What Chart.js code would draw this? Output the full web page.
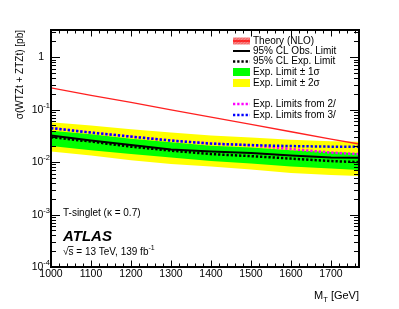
<!DOCTYPE html>
<html>
<head>
<meta charset="utf-8">
<script src="https://cdn.jsdelivr.net/npm/chart.js@4.4.0/dist/chart.umd.min.js"></script>
<style>
  html, body { margin: 0; padding: 0; background: #fff; }
  canvas { display: block; }
</style>
</head>
<body>
<canvas id="myChart" width="399" height="309"></canvas>
<script>
// mass points (GeV)
const masses = [1000, 1100, 1200, 1300, 1400, 1500, 1600, 1700, 1770];

// cross-section limits (pb)
const theory = [0.260, 0.188, 0.137, 0.0992, 0.0720, 0.0522, 0.0379, 0.0275, 0.0221];
const obsLimit = [0.0320, 0.0257, 0.0211, 0.0173, 0.01585, 0.01484, 0.0133, 0.01218, 0.01208];
const expLimit = [0.0299, 0.0246, 0.0197, 0.01656, 0.0142, 0.0130, 0.01166, 0.01045, 0.0100];
const plus1s = [0.0398, 0.0341, 0.0280, 0.0240, 0.0206, 0.0189, 0.0169, 0.0155, 0.0148];
const minus1s = [0.0202, 0.0169, 0.0142, 0.0122, 0.01045, 0.00936, 0.00821, 0.00752, 0.00704];
const plus2s = [0.0578, 0.0496, 0.0425, 0.0365, 0.0320, 0.0293, 0.0268, 0.0251, 0.0244];
const minus2s = [0.01585, 0.0133, 0.0109, 0.00916, 0.00821, 0.00720, 0.00617, 0.00565, 0.00541];
const exp2l = [0.0448, 0.0367, 0.0307, 0.0258, 0.0226, 0.0209, 0.0177, 0.0152, 0.0142];
const exp3l = [0.0444, 0.0365, 0.0306, 0.0257, 0.0225, 0.0211, 0.0202, 0.0197, 0.0196];

const xTicks = [1000, 1100, 1200, 1300, 1400, 1500, 1600, 1700];
const yDecades = [-4, -3, -2, -1, 0];

const pts = (vals) => masses.map((m, i) => ({ x: m, y: vals[i] }));

const FONT = "'Liberation Sans', Arial, Helvetica, sans-serif";

const base = { pointRadius: 0, tension: 0, fill: false };

const data = {
  datasets: [
    { ...base, data: pts(plus2s), borderWidth: 0, backgroundColor: "#ffff00", fill: "+1", order: 10 },
    { ...base, data: pts(minus2s), borderWidth: 0, order: 10 },
    { ...base, data: pts(plus1s), borderWidth: 0, backgroundColor: "#00ff00", fill: "+1", order: 9 },
    { ...base, data: pts(minus1s), borderWidth: 0, order: 9 },
    { ...base, data: pts(theory), borderColor: "#ff2020", borderWidth: 1.3, order: 5 },
    { ...base, data: pts(expLimit), borderColor: "#000", borderWidth: 2.5, borderDash: [2.3, 1.9], order: 4 },
    { ...base, data: pts(obsLimit), borderColor: "#000", borderWidth: 2, order: 3 },
    { ...base, data: pts(exp2l), borderColor: "#ff00ff", borderWidth: 2.5, borderDash: [2.3, 1.9], order: 2 },
    { ...base, data: pts(exp3l), borderColor: "#0000ff", borderWidth: 2.5, borderDash: [2.3, 1.9], order: 1 },
  ],
};

// draws the ROOT-style frame, ticks, labels, legend and texts
const atlasFrame = {
  id: "atlasFrame",
  afterDraw: (chart) => {
    const { ctx, chartArea: { top, bottom, left, right }, scales: { x, y } } = chart;
    ctx.save();
    ctx.strokeStyle = "#000";
    ctx.fillStyle = "#000";

    // ticks
    ctx.lineWidth = 1;
    ctx.beginPath();
    for (let m = 1000; m <= 1770; m += 20) {
      const px = Math.round(x.getPixelForValue(m)) + 0.5;
      const len = m % 100 === 0 ? 6.5 : 3.5;
      ctx.moveTo(px, bottom); ctx.lineTo(px, bottom - len);
      ctx.moveTo(px, top); ctx.lineTo(px, top + len);
    }
    for (let d = -4; d <= 0; d++) {
      for (let k = 1; k <= 9; k++) {
        const v = k * Math.pow(10, d);
        if (v > y.max) break;
        const py = Math.round(y.getPixelForValue(v)) + 0.5;
        const len = k === 1 ? 9 : 5;
        ctx.moveTo(left, py); ctx.lineTo(left + len, py);
        ctx.moveTo(right, py); ctx.lineTo(right - len, py);
      }
    }
    ctx.stroke();

    // frame
    ctx.lineWidth = 2;
    ctx.strokeRect(left, top, right - left, bottom - top);

    // x tick labels
    ctx.font = "10.5px " + FONT;
    ctx.textAlign = "center";
    ctx.textBaseline = "middle";
    xTicks.forEach((m) => ctx.fillText(String(m), x.getPixelForValue(m), 274));

    // y tick labels
    yDecades.forEach((d) => {
      const py = y.getPixelForValue(Math.pow(10, d));
      ctx.textBaseline = "middle";
      if (d === 0) {
        ctx.font = "10.5px " + FONT;
        ctx.textAlign = "right";
        ctx.fillText("1", 44, py);
      } else {
        ctx.font = "7.5px " + FONT;
        ctx.textAlign = "right";
        const sup = String(d);
        ctx.fillText(sup, 50, py - 4);
        const w = ctx.measureText(sup).width;
        ctx.font = "10.5px " + FONT;
        ctx.fillText("10", 50 - w, py + 0.5);
      }
    });

    // axis titles
    ctx.font = "11px " + FONT;
    ctx.textAlign = "right";
    ctx.textBaseline = "alphabetic";
    const tail = " [GeV]";
    const tw = ctx.measureText(tail).width;
    ctx.fillText(tail, right, 299);
    ctx.font = "7.5px " + FONT;
    const tT = ctx.measureText("T").width;
    ctx.fillText("T", right - tw, 302);
    ctx.font = "11px " + FONT;
    ctx.fillText("M", right - tw - tT, 299);

    ctx.save();
    ctx.translate(23, top);
    ctx.rotate(-Math.PI / 2);
    ctx.font = "10px " + FONT;
    ctx.textAlign = "right";
    ctx.textBaseline = "alphabetic";
    ctx.fillText("σ(WTZt + ZTZt) [pb]", 0, 0);
    ctx.restore();

    // inner texts
    ctx.textAlign = "left";
    ctx.textBaseline = "middle";
    ctx.font = "10px " + FONT;
    ctx.fillText("T-singlet (κ = 0.7)", 63, 213);
    ctx.font = "italic bold 15px " + FONT;
    ctx.fillText("ATLAS", 63, 236.5);
    ctx.font = "10px " + FONT;
    const s1 = "√s = 13 TeV, 139 fb";
    ctx.fillText(s1, 63, 252);
    const wRoot = ctx.measureText("√").width;
    const wS = ctx.measureText("s").width;
    ctx.lineWidth = 0.8;
    ctx.beginPath();
    ctx.moveTo(63 + wRoot - 0.5, 246.5); ctx.lineTo(63 + wRoot + wS, 246.5);
    ctx.stroke();
    const w1 = ctx.measureText(s1).width;
    ctx.font = "7px " + FONT;
    ctx.fillText("-1", 63 + w1, 248);

    // legend
    const lx0 = 233, lx1 = 250, tx = 253;
    const rows = [
      { y: 41, t: "Theory (NLO)", kind: "theory" },
      { y: 51, t: "95% CL Obs. Limit", kind: "line", c: "#000" },
      { y: 61.5, t: "95% CL Exp. Limit", kind: "dots", c: "#000" },
      { y: 72, t: "Exp. Limit ± 1σ", kind: "box", c: "#00ff00" },
      { y: 83, t: "Exp. Limit ± 2σ", kind: "box", c: "#ffff00" },
      { y: 104, t: "Exp. Limits from 2/", kind: "dots", c: "#ff00ff" },
      { y: 115, t: "Exp. Limits from 3/", kind: "dots", c: "#0000ff" },
    ];
    rows.forEach((r) => {
      if (r.kind === "theory") {
        ctx.fillStyle = "#f48a8a";
        ctx.fillRect(lx0, r.y - 3.5, lx1 - lx0, 7);
        ctx.strokeStyle = "#ff3030";
        ctx.lineWidth = 0.7;
        ctx.beginPath();
        for (let k = -4; k <= 20; k += 3) {
          ctx.moveTo(lx0 + k, r.y + 3.5); ctx.lineTo(lx0 + k + 7, r.y - 3.5);
        }
        ctx.save();
        ctx.beginPath();
        ctx.rect(lx0, r.y - 3.5, lx1 - lx0, 7);
        ctx.clip();
        ctx.beginPath();
        for (let k = -4; k <= 20; k += 3) {
          ctx.moveTo(lx0 + k, r.y + 3.5); ctx.lineTo(lx0 + k + 7, r.y - 3.5);
        }
        ctx.stroke();
        ctx.restore();
        ctx.strokeStyle = "#ff0000";
        ctx.lineWidth = 1.3;
        ctx.beginPath();
        ctx.moveTo(lx0, r.y); ctx.lineTo(lx1, r.y);
        ctx.stroke();
      } else if (r.kind === "box") {
        ctx.fillStyle = r.c;
        ctx.fillRect(lx0, r.y - 4, lx1 - lx0, 8);
      } else {
        ctx.strokeStyle = r.c;
        ctx.lineWidth = r.kind === "line" ? 2 : 2.5;
        ctx.setLineDash(r.kind === "dots" ? [2.3, 1.9] : []);
        ctx.beginPath();
        ctx.moveTo(lx0, r.y); ctx.lineTo(lx1, r.y);
        ctx.stroke();
        ctx.setLineDash([]);
      }
      ctx.fillStyle = "#000";
      ctx.font = "10px " + FONT;
      ctx.textAlign = "left";
      ctx.textBaseline = "middle";
      ctx.fillText(r.t, tx, r.y);
    });

    ctx.restore();
  },
};

const config = {
  type: "line",
  data,
  options: {
    responsive: false,
    animation: false,
    devicePixelRatio: 1,
    layout: { padding: { left: 51, right: 40, top: 30, bottom: 42 } },
    plugins: {
      legend: { display: false },
      tooltip: { enabled: false },
    },
    scales: {
      x: { type: "linear", min: 1000, max: 1770, display: false },
      y: { type: "logarithmic", min: 1e-4, max: 3.3, display: false },
    },
  },
  plugins: [atlasFrame],
};

const myChart = new Chart(document.getElementById("myChart"), config);
</script>
</body>
</html>
